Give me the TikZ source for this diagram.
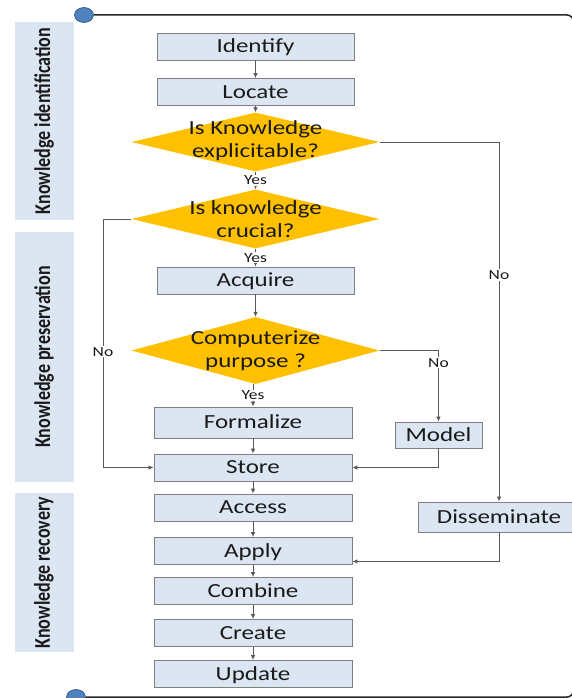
\documentclass[tikz,border=0pt]{standalone}
\usepackage{fontspec}
\setmainfont{Carlito}[FakeStretch=1.25]
\newfontfamily\sidefont{Carlito}
\usetikzlibrary{shapes.geometric,arrows.meta}
\definecolor{boxfill}{HTML}{DCE6F2}
\definecolor{boxline}{HTML}{808080}
\definecolor{diafill}{HTML}{FFC000}
\definecolor{sidefill}{HTML}{DCE6F2}
\definecolor{linec}{HTML}{595959}
\definecolor{txt}{HTML}{1A1A1A}
\definecolor{dotblue}{HTML}{4F81BD}
\definecolor{dotline}{HTML}{2C4D75}
\definecolor{framec}{HTML}{262626}
\begin{document}
\begin{tikzpicture}[x=1pt,y=-1pt,
  box/.style={draw=boxline, fill=boxfill, line width=0.9pt, minimum width=198pt, minimum height=27pt, inner sep=0pt, text height=12.9pt, text depth=0pt, font=\fontsize{20}{22}\selectfont, text=txt},
  dia/.style={diamond, fill=diafill, draw=none, inner sep=0pt, minimum width=248pt, minimum height=59pt},
  diatext/.style={align=center, font=\fontsize{20}{23}\selectfont, text=txt, inner sep=0pt},
  lbl/.style={font=\fontsize{14}{16}\selectfont, fill=white, inner sep=1pt, text=txt},
  arr/.style={draw=linec, line width=0.8pt, -{Latex[length=5pt,width=4.5pt]}},
  side/.style={fill=sidefill, rotate=90, minimum height=59pt, inner sep=0pt, font=\sidefont\bfseries\fontsize{18}{20}\selectfont, text=txt},
  dot/.style={ellipse, fill=dotblue, draw=dotline, line width=0.6pt, minimum width=19pt, minimum height=15pt, inner sep=0pt},
  frame/.style={draw=framec, line width=1.5pt, rounded corners=6pt}]
\useasboundingbox (0,0) rectangle (571,698);

% frame
\node[dot] (c1) at (84,15) {};
\node[dot] (c2) at (76,697) {};
\draw[frame] (c1.east) -- (573,15) -- (573,697) -- (c2.east);

% side labels
\node[side, minimum width=198pt] (s1) at (44,121) {\scalebox{1}[1.25]{Knowledge identification}};
\node[side, minimum width=250pt] (s2) at (44,357) {\scalebox{1}[1.25]{Knowledge preservation}};
\node[side, minimum width=159pt] (s3) at (44,572.5) {\scalebox{1}[1.25]{Knowledge recovery}};

% main boxes
\node[box, minimum width=197pt] (identify) at (255.5,46.5) {Identify};
\node[box, minimum width=197pt] (locate) at (255.5,92) {Locate};
\node[dia] (d1) at (255.5,142) {};
\node[diatext] at (255.5,141) {Is Knowledge\\explicitable?};
\node[dia] (d2) at (255.5,219) {};
\node[diatext] at (255.5,219) {Is knowledge\\crucial?};
\node[box, minimum width=197pt] (acquire) at (255.5,280.5) {Acquire};
\node[dia, minimum height=67pt] (d3) at (255.5,350.5) {};
\node[diatext] at (255.5,350.5) {Computerize\\purpose ?};
\node[box, minimum height=31pt] (formalize) at (253,422.5) {Formalize};
\node[box] (store) at (253,467.5) {Store};
\node[box] (access) at (253,507.5) {Access};
\node[box] (apply) at (253,551) {Apply};
\node[box] (combine) at (253,591) {Combine};
\node[box] (create) at (253,633) {Create};
\node[box] (update) at (253,674) {Update};
\node[box, minimum width=87pt, minimum height=26pt] (model) at (438.5,435) {Model};
\node[box, minimum width=162pt, minimum height=30pt] (dissem) at (499,517) {Disseminate};
\coordinate (lft) at (103,0);

% chain
\draw[arr] (identify) -- (locate);
\draw[arr] (locate) -- (d1);
\draw[arr] (d1) -- node[lbl]{Yes} (d2);
\draw[arr] (d2) -- node[lbl]{Yes} (acquire);
\draw[arr] (acquire) -- (d3);
\draw[arr] (d3.south -| formalize.north) -- node[lbl]{Yes} (formalize.north);
\draw[arr] (formalize) -- (store);
\draw[arr] (store) -- (access);
\draw[arr] (access) -- (apply);
\draw[arr] (apply) -- (combine);
\draw[arr] (combine) -- (create);
\draw[arr] (create) -- (update);

% branches
\draw[arr] (d1.east) -- (d1.east -| dissem.north) -- node[lbl,pos=0.37]{No} (dissem.north);
\draw[arr] (d2.west) -- (d2.west -| lft) -- node[lbl,pos=0.535]{No} (store.west -| lft) -- (store.west);
\draw[arr] (d3.east) -- (d3.east -| model.north) -- node[lbl,pos=0.17]{No} (model.north);
\draw[arr] (model.south) -- (model.south |- store.east) -- (store.east);
\draw[arr] (dissem.south) -- (dissem.south |- apply.-6.3) -- (apply.-6.3);
\end{tikzpicture}
\end{document}
